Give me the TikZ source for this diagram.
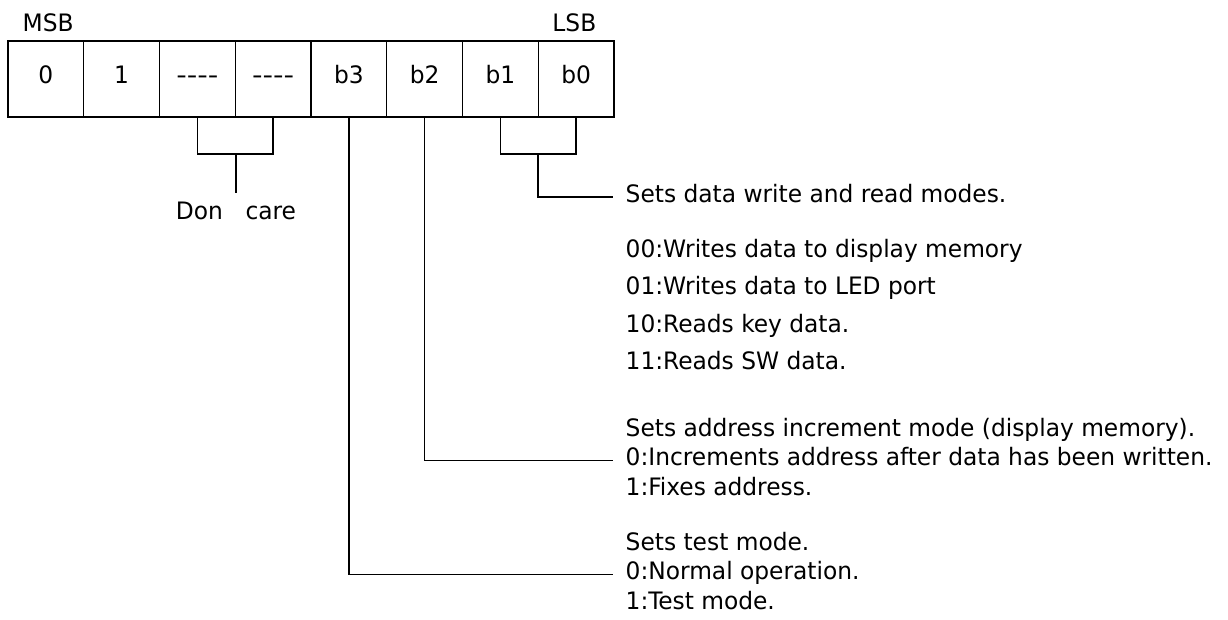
\documentclass[tikz,border=0pt]{standalone}
\usepackage{fontspec}
\setmainfont{DejaVu Sans Condensed}[FakeStretch=1.08]
\newcommand\dontcarebits{\scalebox{1.25}[1]{-\kern0pt-\kern0pt-\kern0pt-}}
\begin{document}
\begin{tikzpicture}[x=0.75pt,y=-0.75pt,line width=1.1pt,
    every node/.style={font=\fontsize{18}{22}\selectfont},
    bitbox/.style={draw,minimum width=56.8pt,minimum height=57pt,inner sep=0pt,text height=0.73em,text depth=0pt},
    desc/.style={anchor=base west,inner xsep=9pt,inner ysep=0pt,text height=0.73em,text depth=0pt}]
    \useasboundingbox (0,0) rectangle (1228,619);
    % register bits, MSB first
    \foreach \lbl [count=\i from 0] in {0,1,\dontcarebits,\dontcarebits,b3,b2,b1,b0}
    {
        \pgfmathtruncatemacro\bitno{7-\i}
        \node[bitbox] (bit\bitno) at (8+75.75*\i+37.875,79) {\lbl};
    }
    \node[anchor=base west,inner sep=0pt] (msb) at (22,31) {MSB};
    \node[anchor=base east,inner sep=0pt] (lsb) at (597,31) {LSB};
    % bits 5 and 4
    \coordinate (dcjoin) at (236,154);
    \coordinate (dcend) at (236,193);
    \draw (bit5.south) |- (dcjoin) -| (bit4.south);
    \draw (dcjoin) -- (dcend);
    \node[anchor=base,inner sep=0pt] (dontcare) at (236,219) {Don\hspace{17pt}care};
    % bits 1 and 0
    \node[desc] (rw) at (613,202) {Sets data write and read modes.};
    \node[desc] (rw00) at (613,257) {00:Writes data to display memory};
    \node[desc] (rw01) at (613,294.5) {01:Writes data to LED port};
    \node[desc] (rw10) at (613,332) {10:Reads key data.};
    \node[desc] (rw11) at (613,369.5) {11:Reads SW data.};
    \coordinate (rwjoin) at (538,154);
    \draw (bit1.south) |- (rwjoin) -| (bit0.south);
    \draw (rwjoin) |- (rw.west);
    % bit 2
    \node[desc] (inc) at (613,436) {Sets address increment mode (display memory).};
    \node[desc] (inc0) at (613,465.5) {0:Increments address after data has been written.};
    \node[desc] (inc1) at (613,495) {1:Fixes address.};
    \draw (bit2.south) |- (inc0.west);
    % bit 3
    \node[desc] (tst) at (613,550) {Sets test mode.};
    \node[desc] (tst0) at (613,579.5) {0:Normal operation.};
    \node[desc] (tst1) at (613,609) {1:Test mode.};
    \draw (bit3.south) |- (tst0.west);
\end{tikzpicture}
\end{document}
